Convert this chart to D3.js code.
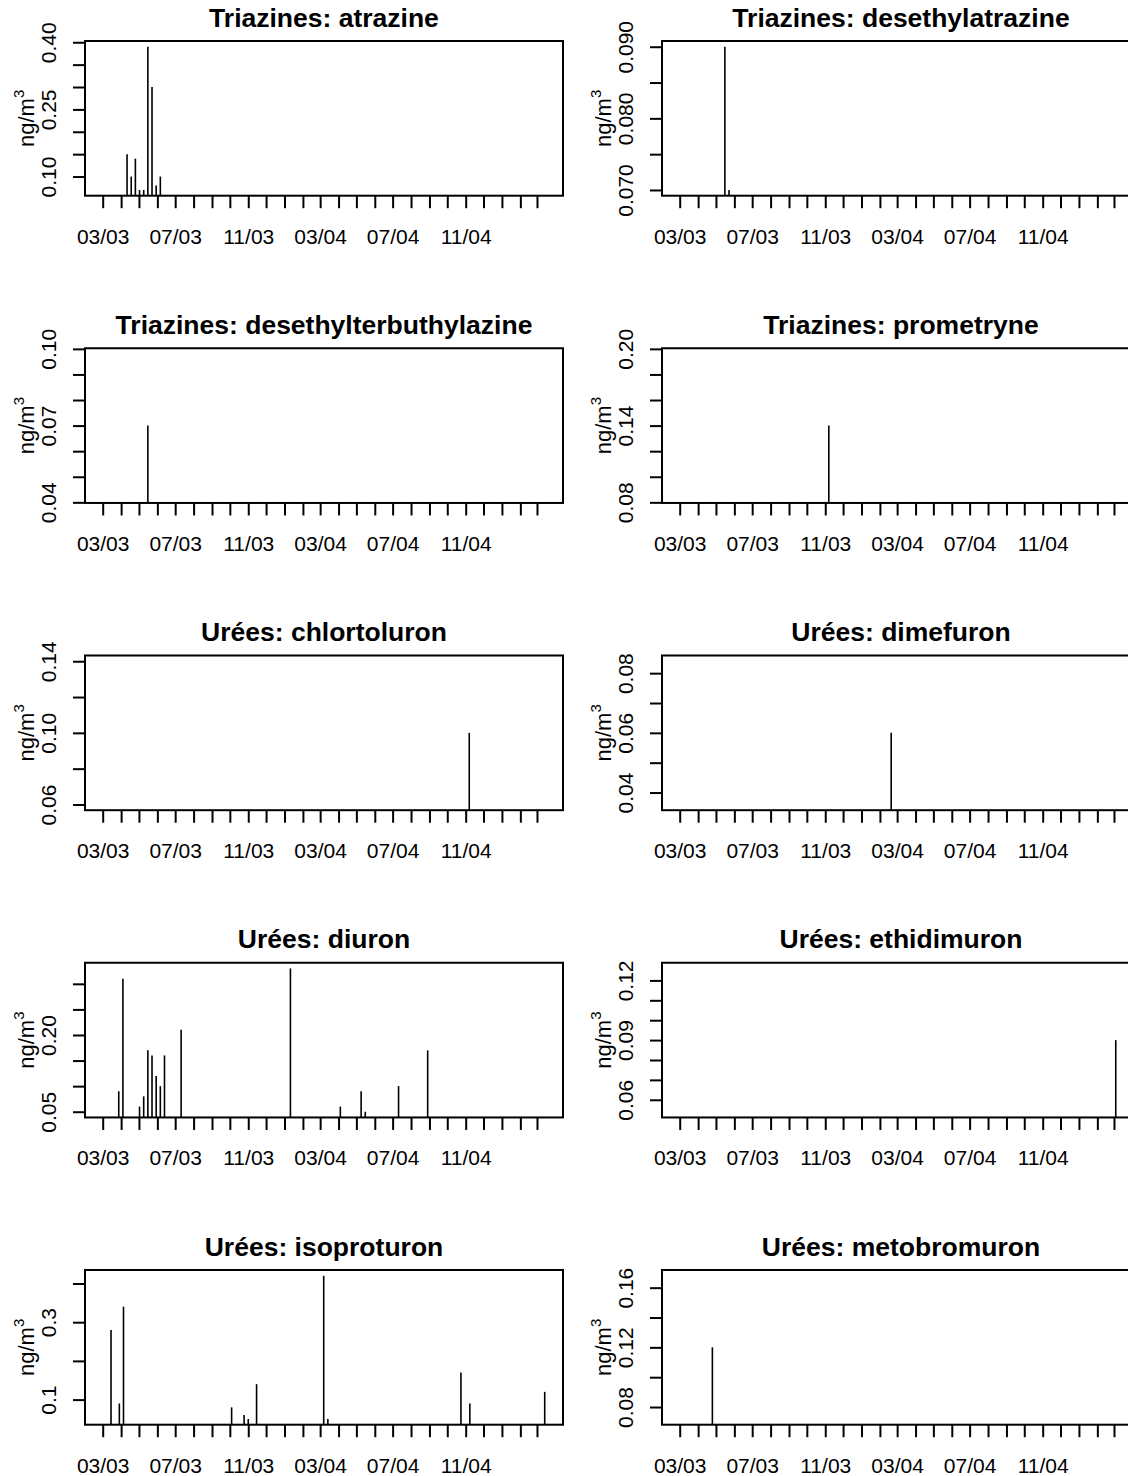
<!DOCTYPE html>
<html>
<head>
<meta charset="utf-8">
<script src="https://cdn.jsdelivr.net/npm/d3@7"></script>
<style>
  body { margin: 0; background: #ffffff; }
  svg { display: block; }
  text { font-family: "Liberation Sans", Arial, Helvetica, sans-serif; fill: #000; }
</style>
</head>
<body>
<svg id="chart" width="1128" height="1476"></svg>
<script>
// ---------------- DATA ----------------
const panelTitles = [
  "Triazines: atrazine", "Triazines: desethylatrazine",
  "Triazines: desethylterbuthylazine", "Triazines: prometryne",
  "Urées: chlortoluron", "Urées: dimefuron",
  "Urées: diuron", "Urées: ethidimuron",
  "Urées: isoproturon", "Urées: metobromuron"
];

// common x range of the sampling campaign
const xRangeDates = ["2003-03-01", "2005-03-15"];
const xTickStart = "2003-03-01";
const xTickEnd = "2005-03-01";
const xLabelMonths = ["2003-03", "2003-07", "2003-11", "2004-03", "2004-07", "2004-11"];
const xLabelTexts  = ["03/03", "07/03", "11/03", "03/04", "07/04", "11/04"];
const yAxisTitle = "ng/m";
const yAxisTitleSup = "3";

const atrazineDates  = ["2003-04-11","2003-04-18","2003-04-25","2003-05-02","2003-05-09","2003-05-16","2003-05-23","2003-05-30","2003-06-06"];
const atrazineValues = [0.15, 0.10, 0.14, 0.07, 0.07, 0.39, 0.30, 0.08, 0.10];
const atrazineTicks  = [0.10, 0.15, 0.20, 0.25, 0.30, 0.35, 0.40];
const atrazineLabels = ["0.10", "0.25", "0.40"];

const desethylatrazineDates  = ["2003-05-16", "2003-05-23"];
const desethylatrazineValues = [0.09, 0.07];
const desethylatrazineTicks  = [0.070, 0.075, 0.080, 0.085, 0.090];
const desethylatrazineLabels = ["0.070", "0.080", "0.090"];

const desethylterbuthylazineDates  = ["2003-05-16"];
const desethylterbuthylazineValues = [0.07];
const desethylterbuthylazineTicks  = [0.04, 0.05, 0.06, 0.07, 0.08, 0.09, 0.10];
const desethylterbuthylazineLabels = ["0.04", "0.07", "0.10"];

const prometryneDates  = ["2003-11-07"];
const prometryneValues = [0.14];
const prometryneTicks  = [0.08, 0.10, 0.12, 0.14, 0.16, 0.18, 0.20];
const prometryneLabels = ["0.08", "0.14", "0.20"];

const chlortoluronDates  = ["2004-11-07"];
const chlortoluronValues = [0.10];
const chlortoluronTicks  = [0.06, 0.08, 0.10, 0.12, 0.14];
const chlortoluronLabels = ["0.06", "0.10", "0.14"];

const dimefuronDates  = ["2004-02-20"];
const dimefuronValues = [0.06];
const dimefuronTicks  = [0.04, 0.05, 0.06, 0.07, 0.08];
const dimefuronLabels = ["0.04", "0.06", "0.08"];

const diuronDates  = ["2003-03-28","2003-04-04","2003-05-02","2003-05-09","2003-05-16","2003-05-23","2003-05-30","2003-06-06","2003-06-13","2003-07-11","2004-01-11","2004-04-04","2004-05-09","2004-05-16","2004-07-11","2004-08-29"];
const diuronValues = [0.09, 0.31, 0.06, 0.08, 0.17, 0.16, 0.12, 0.10, 0.16, 0.21, 0.33, 0.06, 0.09, 0.05, 0.10, 0.17];
const diuronTicks  = [0.05, 0.10, 0.15, 0.20, 0.25, 0.30];
const diuronLabels = ["0.05", "0.20"];

const ethidimuronDates  = ["2005-03-04"];
const ethidimuronValues = [0.09];
const ethidimuronTicks  = [0.06, 0.07, 0.08, 0.09, 0.10, 0.11, 0.12];
const ethidimuronLabels = ["0.06", "0.09", "0.12"];

const isoproturonDates  = ["2003-03-15","2003-03-29","2003-04-05","2003-10-04","2003-10-25","2003-11-01","2003-11-15","2004-03-07","2004-03-14","2004-10-24","2004-11-08","2005-03-14"];
const isoproturonValues = [0.28, 0.09, 0.34, 0.08, 0.06, 0.05, 0.14, 0.42, 0.05, 0.17, 0.09, 0.12];
const isoproturonTicks  = [0.1, 0.2, 0.3, 0.4];
const isoproturonLabels = ["0.1", "0.3"];

const metobromuronDates  = ["2003-04-25"];
const metobromuronValues = [0.12];
const metobromuronTicks  = [0.08, 0.10, 0.12, 0.14, 0.16];
const metobromuronLabels = ["0.08", "0.12", "0.16"];

// ---------------- BUILD ----------------
const panels = [
  [atrazineDates, atrazineValues, atrazineTicks, atrazineLabels],
  [desethylatrazineDates, desethylatrazineValues, desethylatrazineTicks, desethylatrazineLabels],
  [desethylterbuthylazineDates, desethylterbuthylazineValues, desethylterbuthylazineTicks, desethylterbuthylazineLabels],
  [prometryneDates, prometryneValues, prometryneTicks, prometryneLabels],
  [chlortoluronDates, chlortoluronValues, chlortoluronTicks, chlortoluronLabels],
  [dimefuronDates, dimefuronValues, dimefuronTicks, dimefuronLabels],
  [diuronDates, diuronValues, diuronTicks, diuronLabels],
  [ethidimuronDates, ethidimuronValues, ethidimuronTicks, ethidimuronLabels],
  [isoproturonDates, isoproturonValues, isoproturonTicks, isoproturonLabels],
  [metobromuronDates, metobromuronValues, metobromuronTicks, metobromuronLabels]
].map(([dates, values, ticks, labels], i) => ({
  title: panelTitles[i],
  points: dates.map((d, j) => ({ date: d3.utcParse("%Y-%m-%d")(d), value: values[j] })),
  ticks, labels
}));

// ---------------- LAYOUT ----------------
const svg = d3.select("#chart");
svg.append("rect").attr("width", 1128).attr("height", 1476).attr("fill", "#fff");

const colPitch = 577, rowPitch = 307.25;
const boxLeft = 85, boxTop = 41, boxW = 478, boxH = 154.7;
const parse = d3.utcParse("%Y-%m-%d");

// R style axis range: data range extended by 4 %
function rRange(lo, hi) {
  if (lo === hi) { const d = Math.abs(lo) * 0.4; lo -= d; hi += d; }
  const e = (hi - lo) * 0.04;
  return [lo - e, hi + e];
}

const xr = rRange(+parse(xRangeDates[0]), +parse(xRangeDates[1]));
const monthTicks = d3.utcMonth.range(parse(xTickStart), d3.utcDay.offset(parse(xTickEnd), 1));
const monthFmt = d3.utcFormat("%Y-%m");
const labelMap = new Map(xLabelMonths.map((m, i) => [m, xLabelTexts[i]]));

panels.forEach((p, i) => {
  const col = i % 2, row = Math.floor(i / 2);
  const ox = col * colPitch, oy = row * rowPitch;
  const g = svg.append("g").attr("transform", `translate(${ox + boxLeft},${oy + boxTop})`);

  const x = d3.scaleUtc().domain([new Date(xr[0]), new Date(xr[1])]).range([0, boxW]);
  const vals = p.points.map(d => d.value);
  const y = d3.scaleLinear().domain(rRange(d3.min(vals), d3.max(vals))).range([boxH, 0]);

  // title
  svg.append("text")
    .attr("x", ox + boxLeft + boxW / 2).attr("y", oy + 26.5)
    .attr("text-anchor", "middle")
    .attr("font-size", 26.5).attr("font-weight", "bold")
    .text(p.title);

  // y axis title
  const yt = svg.append("text")
    .attr("transform", `translate(${ox + 34},${oy + boxTop + boxH / 2}) rotate(-90)`)
    .attr("text-anchor", "middle")
    .attr("font-size", 22);
  yt.append("tspan").text(yAxisTitle);
  yt.append("tspan").attr("font-size", 15).attr("dy", -10).text(yAxisTitleSup);

  // vertical "h" lines
  g.selectAll("line.bar").data(p.points).join("line")
    .attr("class", "bar")
    .attr("x1", d => x(d.date)).attr("x2", d => x(d.date))
    .attr("y1", y(y.domain()[0])).attr("y2", d => y(d.value))
    .attr("stroke", "#000").attr("stroke-width", 1.6);

  // x axis
  const xa = g.append("g").attr("transform", `translate(0,${boxH})`)
    .call(d3.axisBottom(x).tickValues(monthTicks).tickSize(12.5)
      .tickFormat(d => labelMap.get(monthFmt(d)) || ""));
  xa.select(".domain").remove();
  xa.selectAll(".tick line").attr("stroke", "#000").attr("stroke-width", 2);
  xa.selectAll(".tick text").attr("y", 48).attr("dy", 0)
    .attr("font-size", 21).attr("font-family", null).attr("fill", "#000");
  xa.attr("font-family", null).attr("font-size", null);

  // y axis
  const ya = g.append("g")
    .call(d3.axisLeft(y).tickValues(p.ticks).tickSize(12)
      .tickFormat(d => {
        const k = p.labels.find(l => Math.abs(+l - d) < 1e-9);
        return k || "";
      }));
  ya.select(".domain").remove();
  ya.selectAll(".tick line").attr("stroke", "#000").attr("stroke-width", 2);
  ya.selectAll(".tick text")
    .attr("x", 0).attr("y", -29).attr("dy", 0)
    .attr("transform", "rotate(-90)")
    .attr("text-anchor", "middle")
    .attr("font-size", 21).attr("font-family", null).attr("fill", "#000");
  ya.attr("font-family", null).attr("font-size", null);

  // box
  g.append("rect").attr("width", boxW).attr("height", boxH)
    .attr("fill", "none").attr("stroke", "#000").attr("stroke-width", 2);
});
</script>
</body>
</html>
